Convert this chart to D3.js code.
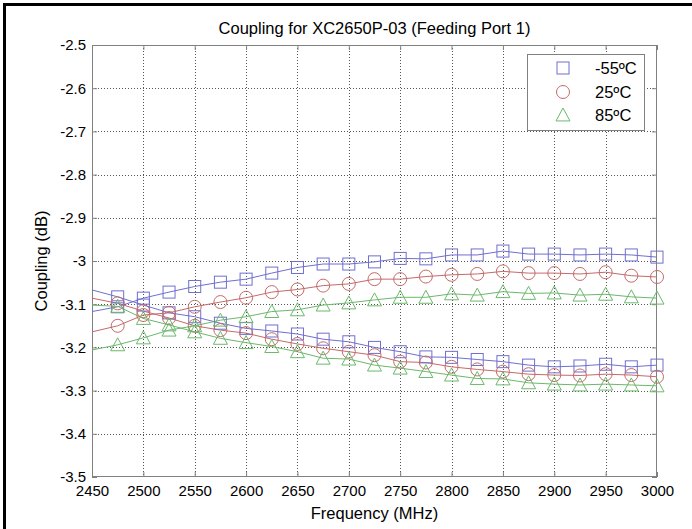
<!DOCTYPE html>
<html><head><meta charset="utf-8">
<script src="https://cdn.jsdelivr.net/npm/d3@7"></script>
<style>body{margin:0;background:#fff}svg{display:block}text{font-family:"Liberation Sans",Arial,sans-serif}</style>
</head><body><svg id="c" width="692" height="529"></svg>
<script>
const freqs = [2450,2475,2500,2525,2550,2575,2600,2625,2650,2675,2700,2725,2750,2775,2800,2825,2850,2875,2900,2925,2950,2975,3000];
const m55Up   = [-3.117,-3.106,-3.086,-3.072,-3.059,-3.049,-3.042,-3.028,-3.015,-3.007,-3.007,-3.002,-2.994,-2.995,-2.986,-2.986,-2.977,-2.984,-2.984,-2.986,-2.984,-2.986,-2.991];
const m55Down = [-3.067,-3.083,-3.102,-3.120,-3.129,-3.144,-3.156,-3.162,-3.169,-3.181,-3.187,-3.200,-3.210,-3.222,-3.223,-3.228,-3.233,-3.241,-3.245,-3.243,-3.239,-3.245,-3.241];
const p25Up   = [-3.164,-3.150,-3.125,-3.120,-3.106,-3.095,-3.085,-3.072,-3.066,-3.057,-3.053,-3.042,-3.042,-3.036,-3.032,-3.030,-3.024,-3.028,-3.028,-3.030,-3.026,-3.034,-3.037];
const p25Down = [-3.086,-3.098,-3.116,-3.132,-3.150,-3.160,-3.167,-3.181,-3.192,-3.202,-3.210,-3.218,-3.233,-3.235,-3.245,-3.251,-3.256,-3.262,-3.264,-3.265,-3.262,-3.264,-3.268];
const p85Up   = [-3.206,-3.194,-3.178,-3.160,-3.150,-3.137,-3.129,-3.117,-3.113,-3.102,-3.097,-3.090,-3.084,-3.084,-3.076,-3.079,-3.071,-3.075,-3.074,-3.079,-3.077,-3.083,-3.086];
const p85Down = [-3.102,-3.105,-3.133,-3.148,-3.164,-3.179,-3.189,-3.198,-3.210,-3.225,-3.227,-3.241,-3.248,-3.256,-3.264,-3.272,-3.273,-3.282,-3.285,-3.287,-3.285,-3.287,-3.289];
const seriesNames = ["-55ºC","25ºC","85ºC"];
const xTicks = [2450,2500,2550,2600,2650,2700,2750,2800,2850,2900,2950,3000];
const yTicks = [-2.5,-2.6,-2.7,-2.8,-2.9,-3,-3.1,-3.2,-3.3,-3.4,-3.5];
const yTickLabels = ["-2.5","-2.6","-2.7","-2.8","-2.9","-3","-3.1","-3.2","-3.3","-3.4","-3.5"];

const series = [
  {name:seriesNames[0], color:"#6f6fcf", marker:"square", curves:[m55Up,m55Down]},
  {name:seriesNames[1], color:"#c46a6a", marker:"circle", curves:[p25Up,p25Down]},
  {name:seriesNames[2], color:"#6cb86c", marker:"triangle", curves:[p85Up,p85Down]}
];

const svg = d3.select("#c");
const L=92, R=657, T=45, B=477;
svg.append("rect").attr("width",692).attr("height",529).attr("fill","#fff");
svg.append("rect").attr("x",3).attr("y",3).attr("width",3).attr("height",526).attr("fill","#000");
svg.append("rect").attr("x",3).attr("y",3).attr("width",689).attr("height",3).attr("fill","#000");

const x = d3.scaleLinear().domain([2450,3000]).range([L,R]);
const y = d3.scaleLinear().domain([-3.5,-2.5]).range([B,T]);

const g = svg.append("g");
g.selectAll(".gx").data(xTicks.slice(1,-1)).join("line")
  .attr("x1",d=>Math.round(x(d))+0.5).attr("x2",d=>Math.round(x(d))+0.5).attr("y1",T).attr("y2",B)
  .attr("stroke","#555").attr("stroke-width",1).attr("stroke-dasharray","1,2");
g.selectAll(".gy").data(yTicks.slice(1,-1)).join("line")
  .attr("y1",d=>Math.round(y(d))+0.5).attr("y2",d=>Math.round(y(d))+0.5).attr("x1",L).attr("x2",R)
  .attr("stroke","#555").attr("stroke-width",1).attr("stroke-dasharray","1,2");

const ax = svg.append("g").attr("transform",`translate(0,${B})`)
  .call(d3.axisBottom(x).tickValues(xTicks).tickSizeInner(-5).tickSizeOuter(0).tickPadding(8).tickFormat(d3.format("d")));
const axTop = svg.append("g").attr("transform",`translate(0,${T})`)
  .call(d3.axisTop(x).tickValues(xTicks).tickSizeInner(-5).tickSizeOuter(0).tickFormat(""));
const ay = svg.append("g").attr("transform",`translate(${L},0)`)
  .call(d3.axisLeft(y).tickValues(yTicks).tickSizeInner(-5).tickSizeOuter(0).tickPadding(6).tickFormat((d,i)=>yTickLabels[i]));
const ayR = svg.append("g").attr("transform",`translate(${R},0)`)
  .call(d3.axisRight(y).tickValues(yTicks).tickSizeInner(-5).tickSizeOuter(0).tickFormat(""));
[ax,axTop,ay,ayR].forEach(a=>{
  a.selectAll(".domain").remove();
  a.selectAll("line").attr("stroke","#808080");
  a.selectAll("text").attr("fill","#000").style("font-size","15px").style("font-family","'Liberation Sans',Arial,sans-serif");
});
ay.selectAll("text").attr("dy","0.32em");
svg.append("rect").attr("x",L+0.5).attr("y",T+0.5).attr("width",R-L-1).attr("height",B-T-1)
  .attr("fill","none").attr("stroke","#808080").attr("stroke-width",1);

const line = d3.line().x((d,i)=>x(freqs[i])).y(d=>y(d));
const plot = svg.append("g");
series.forEach(s=>{
  s.curves.forEach(c=>{
    plot.append("path").datum(c).attr("d",line).attr("fill","none").attr("stroke",s.color).attr("stroke-width",1);
  });
});
function drawMarker(sel, type, cx, cy, color){
  if(type==="square"){
    sel.append("rect").attr("x",cx-6).attr("y",cy-6).attr("width",12).attr("height",12)
      .attr("fill","none").attr("stroke",color).attr("stroke-width",1);
  } else if(type==="circle"){
    sel.append("circle").attr("cx",cx).attr("cy",cy).attr("r",6.5)
      .attr("fill","none").attr("stroke",color).attr("stroke-width",1);
  } else {
    const h=7;
    sel.append("path").attr("d",`M${cx},${cy-h}L${cx+h},${cy+h*0.85}L${cx-h},${cy+h*0.85}Z`)
      .attr("fill","none").attr("stroke",color).attr("stroke-width",1);
  }
}
series.forEach(s=>{
  s.curves.forEach(c=>{
    c.forEach((v,i)=>{ if(i>0) drawMarker(plot, s.marker, x(freqs[i]), y(v), s.color); });
  });
});

const lg = svg.append("g");
lg.append("rect").attr("x",527.5).attr("y",54.5).attr("width",117).attr("height",76)
  .attr("fill","#fff").attr("stroke","#808080");
const ly=[68,92,115];
series.forEach((s,i)=>{
  drawMarker(lg, s.marker, 563, ly[i], s.color);
  lg.append("text").attr("x",595).attr("y",ly[i]).attr("dy","0.35em").style("font-size","16.5px").text(s.name);
});

svg.append("text").attr("x",(L+R)/2).attr("y",34).attr("text-anchor","middle").style("font-size","16.5px")
  .text("Coupling for XC2650P-03 (Feeding Port 1)");
svg.append("text").attr("x",(L+R)/2).attr("y",519).attr("text-anchor","middle").style("font-size","16.5px")
  .text("Frequency (MHz)");
svg.append("text").attr("transform",`translate(47,${(T+B)/2}) rotate(-90)`).attr("text-anchor","middle").style("font-size","16.5px")
  .text("Coupling (dB)");
</script></body></html>
